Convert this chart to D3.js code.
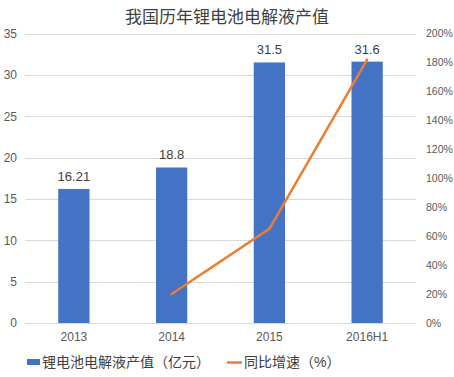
<!DOCTYPE html>
<html><head><meta charset="utf-8">
<script src="https://cdn.jsdelivr.net/npm/d3@7"></script>
<style>body{margin:0;background:#fff}svg{display:block}text{font-family:"Liberation Sans","Noto Sans CJK SC",sans-serif}</style>
</head><body><svg id="c" width="454" height="377"></svg>
<script>
const categories = ["2013","2014","2015","2016H1"];
const outputValues = [16.21, 18.8, 31.5, 31.6];
const growthValues = [null, 20, 65, 182];
const leftTicks = [0,5,10,15,20,25,30,35];
const rightTicks = [0,20,40,60,80,100,120,140,160,180,200];

const svg = d3.select("#c");
const L = 25, R = 416, T = 33.5, B = 323;
const x = d3.scaleBand().domain(categories).range([L, R]).paddingInner(0.68).paddingOuter(0.34);
const xc = d3.scalePoint().domain(categories).range([L, R]).padding(0.5);
const y = d3.scaleLinear().domain([0,35]).range([B, T]);
const y2 = d3.scaleLinear().domain([0,200]).range([B, T]);

svg.append("text").attr("x",227).attr("y",23).attr("text-anchor","middle")
  .attr("font-size",17).attr("fill","#404040").attr("font-family","Noto Sans CJK SC").text("我国历年锂电池电解液产值");

// grid
svg.append("g").selectAll("line").data(leftTicks).join("line")
  .attr("x1",L).attr("x2",R).attr("y1",d=>Math.round(y(d))+0.5).attr("y2",d=>Math.round(y(d))+0.5)
  .attr("stroke","#d9d9d9").attr("stroke-width",1);

// left axis
const ga = svg.append("g").attr("transform",`translate(${L},0)`)
  .call(d3.axisLeft(y).tickValues(leftTicks).tickSize(0).tickPadding(8));
ga.select(".domain").remove();
ga.selectAll("text").attr("font-size",12).attr("fill","#595959");

// right axis
const gb = svg.append("g").attr("transform",`translate(${R},0)`)
  .call(d3.axisRight(y2).tickValues(rightTicks).tickSize(0).tickPadding(10).tickFormat(d=>d+"%"));
gb.select(".domain").remove();
gb.selectAll("text").attr("font-size",10.5).attr("fill","#595959");

// x axis
const gx = svg.append("g").attr("transform",`translate(0,${B})`)
  .call(d3.axisBottom(x).tickSize(0).tickPadding(9));
gx.select(".domain").remove();
gx.selectAll("text").attr("font-size",12).attr("fill","#595959");

// bars
svg.append("g").selectAll("rect").data(outputValues).join("rect")
  .attr("x",(d,i)=>x(categories[i])).attr("width",x.bandwidth())
  .attr("y",d=>y(d)).attr("height",d=>B-y(d)).attr("fill","#4472c4");

svg.append("g").selectAll("text").data(outputValues).join("text")
  .attr("x",(d,i)=>x(categories[i])+x.bandwidth()/2).attr("y",d=>y(d)-8)
  .attr("text-anchor","middle").attr("font-size",13).attr("fill","#404040").text(d=>d);

// line
const pts = growthValues.map((v,i)=>({c:categories[i],v})).filter(d=>d.v!=null);
svg.append("path").datum(pts)
  .attr("d",d3.line().x(d=>xc(d.c)).y(d=>y2(d.v)))
  .attr("fill","none").attr("stroke","#ed7d31").attr("stroke-width",2.5).attr("stroke-linecap","round");

// legend
svg.append("rect").attr("x",27).attr("y",359).attr("width",13).attr("height",6).attr("fill","#4472c4");
svg.append("text").attr("x",42).attr("y",367).attr("font-size",14).attr("fill","#404040")
  .attr("font-family","Noto Sans CJK SC").text("锂电池电解液产值（亿元）");
svg.append("line").attr("x1",227).attr("x2",242).attr("y1",362.5).attr("y2",362.5)
  .attr("stroke","#ed7d31").attr("stroke-width",2.5);
svg.append("text").attr("x",244).attr("y",367).attr("font-size",14).attr("fill","#404040")
  .attr("font-family","Noto Sans CJK SC").text("同比增速（%）");
</script></body></html>
